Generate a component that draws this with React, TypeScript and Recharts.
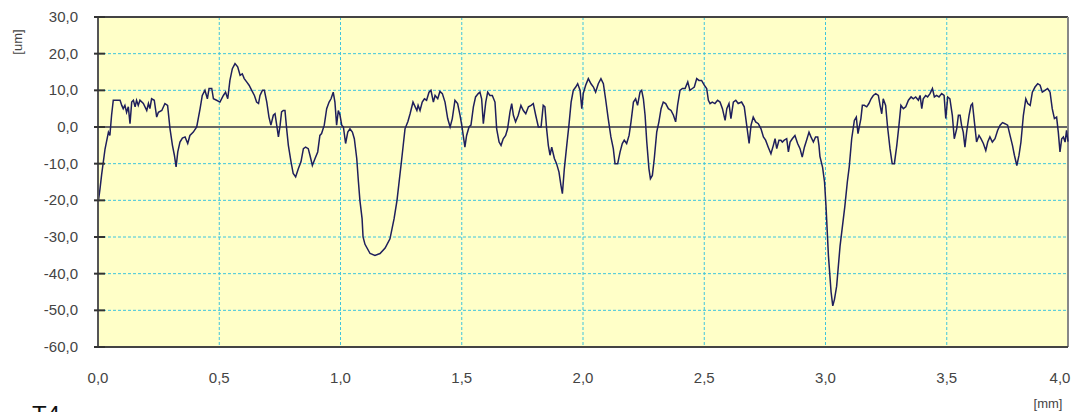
import { LineChart, Line, XAxis, YAxis, CartesianGrid, ReferenceLine } from 'recharts'

// axis ticks
const xTicks = [0, 0.5, 1, 1.5, 2, 2.5, 3, 3.5, 4]
const yTicks = [-60, -50, -40, -30, -20, -10, 0, 10, 20, 30]

// profile, distance in mm
const distanceMm = [
  0.000, 0.008, 0.015, 0.029, 0.043, 0.049, 0.056, 0.063, 0.091, 0.098,
  0.104, 0.111, 0.118, 0.125, 0.132, 0.139, 0.146, 0.153, 0.159, 0.166,
  0.173, 0.187, 0.201, 0.208, 0.214, 0.221, 0.232, 0.242, 0.249, 0.263,
  0.276, 0.287, 0.297, 0.307, 0.315, 0.322, 0.329, 0.338, 0.348, 0.359,
  0.370, 0.379, 0.393, 0.407, 0.421, 0.430, 0.441, 0.451, 0.458, 0.469,
  0.476, 0.489, 0.503, 0.517, 0.526, 0.535, 0.544, 0.554, 0.565, 0.576,
  0.586, 0.595, 0.603, 0.613, 0.623, 0.634, 0.645, 0.654, 0.662, 0.668,
  0.678, 0.686, 0.696, 0.705, 0.713, 0.723, 0.730, 0.737, 0.744, 0.751,
  0.757, 0.764, 0.771, 0.778, 0.785, 0.796, 0.805, 0.815, 0.826, 0.837,
  0.847, 0.856, 0.867, 0.874, 0.884, 0.895, 0.906, 0.915, 0.922, 0.933,
  0.943, 0.953, 0.961, 0.970, 0.977, 0.984, 0.991, 0.998, 1.005, 1.012,
  1.021, 1.030, 1.039, 1.049, 1.057, 1.067, 1.074,
  1.080, 1.089, 1.093, 1.101, 1.122, 1.142, 1.163, 1.184, 1.204, 1.221,
  1.233, 1.252, 1.266, 1.278, 1.287, 1.299, 1.315, 1.320,
  1.328, 1.337, 1.346, 1.355, 1.365, 1.373, 1.383, 1.390, 1.401, 1.410,
  1.420, 1.431, 1.442, 1.452, 1.461, 1.472, 1.483, 1.493, 1.500, 1.507,
  1.513, 1.520, 1.530, 1.538, 1.548, 1.557, 1.568, 1.575, 1.582, 1.589,
  1.599, 1.607, 1.616, 1.626, 1.637, 1.644, 1.654, 1.662, 1.671, 1.681,
  1.689, 1.699, 1.706, 1.713, 1.722, 1.733, 1.744, 1.754, 1.764, 1.775,
  1.786, 1.795, 1.805, 1.816, 1.827, 1.836, 1.843, 1.850, 1.857, 1.864,
  1.871, 1.882, 1.891, 1.901, 1.909, 1.915, 1.923, 1.933, 1.942, 1.951,
  1.960, 1.970, 1.978, 1.988,
  1.995, 2.001, 2.011, 2.022, 2.033, 2.043, 2.052, 2.063, 2.074, 2.084,
  2.093, 2.104, 2.115, 2.125, 2.132, 2.143, 2.153, 2.162, 2.170, 2.180,
  2.190, 2.198, 2.208, 2.217, 2.225, 2.235, 2.242, 2.249, 2.256, 2.263,
  2.272, 2.278, 2.286, 2.294, 2.304, 2.313, 2.322, 2.331, 2.341, 2.352,
  2.363, 2.373, 2.382, 2.390, 2.400, 2.410, 2.421, 2.432, 2.441, 2.451,
  2.459, 2.469, 2.478, 2.489, 2.500, 2.510, 2.517, 2.524, 2.533, 2.544,
  2.555, 2.565, 2.575, 2.586, 2.593, 2.602, 2.610, 2.620, 2.630, 2.640,
  2.654, 2.665, 2.675, 2.685, 2.693, 2.702, 2.712, 2.723, 2.734, 2.744,
  2.753, 2.764, 2.775, 2.785, 2.792, 2.799, 2.808, 2.816, 2.822, 2.830,
  2.840, 2.847, 2.854, 2.863, 2.874, 2.885, 2.895, 2.904, 2.913, 2.922,
  2.932, 2.940, 2.950, 2.959, 2.968, 2.973,
  2.977, 2.988, 2.996, 3.002, 3.012, 3.023, 3.030, 3.037, 3.046, 3.060,
  3.080, 3.090, 3.098, 3.108, 3.119, 3.127, 3.134, 3.146, 3.152, 3.160,
  3.170, 3.179, 3.188, 3.197, 3.207, 3.218, 3.225, 3.232, 3.238, 3.248,
  3.256, 3.266, 3.275, 3.284, 3.294, 3.303,
  3.311, 3.321, 3.331, 3.342, 3.353, 3.362, 3.372, 3.383, 3.390, 3.397,
  3.403, 3.413, 3.421, 3.431, 3.441, 3.449, 3.458, 3.468, 3.479, 3.489,
  3.496, 3.504, 3.513, 3.523, 3.531, 3.541, 3.548, 3.555, 3.561, 3.568,
  3.575, 3.582, 3.592, 3.600, 3.606, 3.614, 3.623, 3.633, 3.641, 3.651,
  3.661, 3.669, 3.678, 3.688, 3.699, 3.710, 3.720, 3.730, 3.740, 3.751,
  3.761, 3.771, 3.779, 3.789, 3.798, 3.806, 3.816, 3.826, 3.834, 3.844,
  3.853, 3.864, 3.875, 3.885, 3.894, 3.905, 3.916, 3.926, 3.935, 3.944,
  3.953, 3.960, 3.967, 3.974, 3.981, 3.988, 3.994, 4.000,
]

// profile height in um
const heightUm = [
  -21, -17, -13, -6, -1.4, -2.3, 3.2, 7.3, 7.3, 5.9,
  5, 5.9, 4, 5.5, 0.9, 6.8, 7.3, 5.5, 7.3, 5.9,
  7.3, 6.4, 4.5, 6.4, 5, 7.7, 7.3, 2.7, 4, 4.5,
  6.4, 5.9, -0.5, -5, -7.7, -10.9, -6.8, -4.1, -3, -2.7,
  -4.5, -2.3, -1.4, 0, 5, 8.6, 10, 7.7, 10.5, 10.5,
  7.7, 7.3, 6.8, 8.6, 9.5, 7.7, 12.7, 15.9, 17.3, 16.4,
  14.1, 14.5, 13.2, 12.3, 11.4, 10, 8.6, 6.8, 6.4, 8.6,
  10, 10, 6.8, 2.7, 0.5, 3.2, 3.6, 0.5, -2.7, 0.5,
  4.1, 4.5, 4.5, -0.5, -5, -9.5, -12.7, -13.6, -11.4, -9.5,
  -5.9, -5.5, -5.9, -7.7, -10.5, -8.6, -6.8, -2.3, -1.8, 0.5,
  5, 6.8, 7.7, 9.5, 6.8, 0.5, 4.5, 3.2, 0.5, 0,
  -4.5, -1.4, -0.5, -1.4, -3.2, -8.6, -15,
  -20, -25, -30, -32, -34.5, -35, -34.5, -33, -30.5, -25,
  -20, -9, -0.5, 1.5, 3.6, 6.8, 4.5, 5.9,
  4.5, 6.8, 7.7, 7.3, 9.5, 10, 6.8, 8.6, 7.7, 9.7,
  9.1, 6.8, 2.3, 0, 2.3, 7.3, 6.4, 3.2, 0.5, -2.7,
  -5.5, -2.3, 0, 0.5, 5.5, 8.2, 9.1, 9.5, 7.7, 0.9,
  6.8, 9.5, 8.6, 8.6, 6.8, -0.5, -4.1, -5, -3.2, -2.3,
  -0.5, 4.1, 6.4, 3.2, 1.4, 3.2, 5.9, 4.5, 3.6, 5.5,
  5.9, 6.4, 3.2, 0, 0, 5.9, 5.5, -0.5, -5, -7.7,
  -5.5, -8.6, -10, -12.3, -15.9, -18.2, -11.4, -5, 0.5, 6.8,
  10, 10.9, 11.8, 10,
  5, 9.1, 11.4, 13.2, 11.8, 10.9, 9.5, 11.8, 13.2, 11.8,
  7.7, 2.3, -2.7, -5.9, -10, -10, -6.8, -4.5, -3.6, -4.5,
  -2.3, 1.4, 6.8, 7.7, 5.9, 9.5, 10, 7.7, 3.2, -4.1,
  -11.4, -14.1, -13.2, -8.6, -1.4, 1.4, 5, 6.8, 6.4, 5,
  4.5, 3.2, 1.4, 5.9, 10, 10.5, 10.5, 12.3, 10, 10.5,
  10.9, 13.2, 12.7, 12.7, 11.4, 10.5, 7.3, 6.4, 6.8, 6.4,
  7.3, 6.8, 5, 1.8, 5, 6.4, 2.3, 6.8, 7.3, 6.4,
  6.8, 5.5, 0.5, -4.5, 0.5, 2.7, 1.4, 0.9, -0.5, -2.7,
  -3.6, -5.5, -7.3, -5, -3.2, -5.9, -3.6, -3.6, -4.1, -3.6,
  -3.2, -6.8, -4.1, -3.2, -2.3, -4.5, -5.9, -8.2, -5.5, -3.6,
  -1.4, -2.7, -4.1, -2.7, -2.7, -5,
  -8, -11, -15, -21.5, -35, -45, -48.8, -47, -43.4, -32.5,
  -21.5, -15, -10.8, -3.2, 1.8, 2.7, -1.8, 2.3, 5.9, 5.9,
  5.5, 6.4, 7.7, 8.6, 9.1, 8.6, 5.9, 3.6, 7.7, 5.9,
  0, -5.9, -10, -10, -5, 0.5,
  5.9, 5, 5.5, 7.3, 8.2, 7.7, 8.2, 7.3, 8.6, 5,
  7.7, 8.6, 8.2, 9.1, 10.5, 8.2, 8.6, 8.2, 9.1, 8.6,
  2.3, 8.2, 7.7, 3.2, -3.2, -0.5, 3.2, 3.2, 0.5, -1.4,
  -5.5, -1.4, 3.2, 5.9, 6.4, 1.4, -4.1, -2.3, -3.2, -4.5,
  -6.4, -4.1, -2.7, -4.1, -3.2, -0.9, 0.5, 1.2, 0.9, 0.5,
  -2.3, -5, -7.7, -10.5, -7.7, -4.1, 3.2, 7.7, 6.4, 5.9,
  9.5, 10.9, 11.8, 11.4, 9.5, 10, 10.5, 9.5, 5, 2.3,
  2.7, -1.4, -6.8, -3.2, -2.7, -4.1, -0.9, -4,
]

const data = distanceMm.map((x, i) => ({ x, y: heightUm[i] }))

const fmt = (v: number) => v.toFixed(1).replace('.', ',')

const FONT = '"Liberation Sans", Arial, sans-serif'

function YTick({ x, y, payload }: any) {
  return (
    <g>
      <line x1={x + 16} x2={x + 27} y1={y} y2={y} stroke="#333" strokeWidth={2} />
      <text x={x} y={y} dy={5} textAnchor="end" fill="#444" fontSize={15} fontFamily={FONT}>
        {fmt(payload.value)}
      </text>
    </g>
  )
}

function XTick({ x, y, payload }: any) {
  // last label sits flush with the right border
  const last = payload.value === xTicks[xTicks.length - 1]
  return (
    <text x={last ? x - 8 : x} y={y} dy={11} textAnchor="middle" fill="#444" fontSize={15} fontFamily={FONT}>
      {fmt(payload.value)}
    </text>
  )
}

export default function App() {
  return (
    <div style={{ position: 'absolute', left: 0, top: 0, width: 1080, height: 412, overflow: 'hidden', background: '#fff' }}>
      <LineChart width={1080} height={412} data={data} margin={{ top: 17, right: 12, left: 0, bottom: 35 }}>
        <CartesianGrid stroke="#3fc4dc" strokeDasharray="3 2" fill="#ffffc8" />
        <XAxis
          dataKey="x"
          type="number"
          domain={[0, 4]}
          ticks={xTicks}
          axisLine={{ stroke: '#444', strokeWidth: 2 }}
          tickLine={false}
          tickSize={0}
          tickMargin={25}
          height={30}
          tick={<XTick />}
        />
        <YAxis
          type="number"
          domain={[-60, 30]}
          ticks={yTicks}
          width={98}
          axisLine={{ stroke: '#555', strokeWidth: 2 }}
          tickLine={false}
          tickSize={0}
          tickMargin={20}
          tick={<YTick />}
        />
        <ReferenceLine y={30} stroke="#444" strokeWidth={2} />
        <ReferenceLine y={0} stroke="#666" strokeWidth={2} />
        <ReferenceLine x={4} stroke="#888" strokeWidth={2} />
        <Line
          type="linear"
          dataKey="y"
          stroke="#1f1f5c"
          strokeWidth={1.5}
          dot={false}
          isAnimationActive={false}
        />
      </LineChart>
      <svg width={1080} height={412} style={{ position: 'absolute', left: 0, top: 0, pointerEvents: 'none' }}>
        <text x={22} y={42} transform="rotate(-90, 22, 42)" textAnchor="middle" fontSize={13} fill="#444" fontFamily={FONT}>
          [um]
        </text>
        <text x={1048} y={408} textAnchor="middle" fontSize={13} fill="#444" fontFamily={FONT}>
          [mm]
        </text>
        <text x={32} y={423} fontSize={24} fill="#111" fontFamily={FONT}>
          T4
        </text>
      </svg>
    </div>
  )
}
